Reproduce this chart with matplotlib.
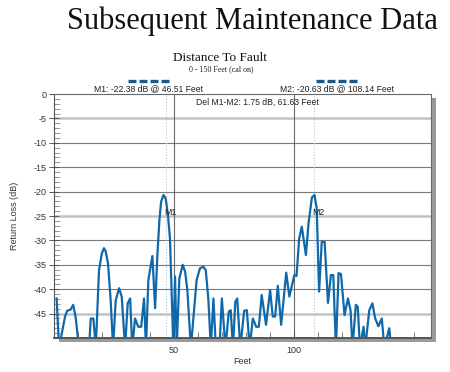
import matplotlib.pyplot as plt
import matplotlib.patches as mpatches
from matplotlib.lines import Line2D
import numpy as np

# Distanz (Feet) und Return Loss (dB) der Messkurve
feet = [1.1, 2.1, 4.6, 5.5, 6.9, 8.0, 9.0, 10.4, 12.5, 14.6, 15.3, 16.4, 17.4,
        18.75, 19.9, 20.8, 21.5, 22.5, 23.6, 24.6, 25.7, 27.1, 28.2, 29.6,
        30.7, 31.7, 32.6, 33.75, 35.1, 36.3, 37.5, 38.3,
        39.3, 40.97, 42.1, 43.05, 43.9, 44.6, 45.6, 46.5, 47.4, 48.3, 49.7,
        50.4, 51.1, 52.2, 53.6, 54.6, 55.5, 57.0,
        59.4, 60.8, 62.2, 63.2, 64.3, 65.3, 66.4, 67.4,
        68.9, 69.9, 71.4, 72.8, 73.6, 74.5, 75.5, 76.3, 77.6, 79.2, 80.3, 81.5,
        82.8, 84.2, 85.3, 86.5, 88.3, 90.0, 91.1, 92.1, 93.2, 94.6, 96.7, 98.0,
        100.1, 101.0, 102.1, 103.2, 104.9, 106.0, 107.4, 108.5, 109.4, 110.4,
        111.5, 112.7, 114.1, 115.3, 116.3, 117.4, 118.5, 119.5, 121.0, 122.4,
        123.5, 124.3, 125.7, 126.5, 127.4, 128.9, 129.6, 131.3, 132.6, 133.75,
        135.1, 136.5, 137.6, 139.6, 140.4, 141.0]
return_loss = [-41.9, -52, -45.6, -44.4, -44.2, -43.2, -45.7, -52, -55, -52, -46, -46, -52,
               -36.1, -32.7, -31.6, -32.2, -34.7, -42.3, -52, -42.3, -39.8, -41.5, -52,
               -42.9, -41.9, -52, -46, -47.7, -47.7, -41.9, -52,
               -38.1, -33.2, -43.9, -33, -25.8, -22.1, -20.7, -21.4, -24.5, -29.6, -52,
               -37.4, -52, -37.8, -35, -36.4, -40, -52,
               -38.1, -35.7, -35.4, -36.1, -42.2, -52, -41.9, -52,
               -52, -41.9, -52, -44.6, -44.3, -52, -42.6, -41.9, -52, -44.4, -44.3, -52,
               -46, -47.7, -47.7, -41.2, -47.3, -40.2, -45.6, -45.6, -39.3, -47.3, -36.6, -41.5,
               -37.1, -37.3, -29.6, -27.2, -33, -26.5, -21.2, -20.7, -23.4, -40.5,
               -30.3, -30.3, -42.8, -37.1, -37.1, -52, -36.7, -36.9, -45.3, -41.9,
               -44.3, -52, -43.2, -43.6, -52, -47.7, -52, -44.3, -42.9, -46,
               -47.6, -46, -52, -48, -52, -55]

# Marker
marker_names = ['M1', 'M2']
marker_feet = [46.51, 108.14]
marker_db = [-22.38, -20.63]

y_ticks = [0, -5, -10, -15, -20, -25, -30, -35, -40, -45]
x_ticks = [50, 100]

sans = 'Liberation Sans'
serif = 'Liberation Serif'
line_blue = '#0f68aa'

fig = plt.figure(figsize=(4.5, 3.72), dpi=100)
fig.patch.set_facecolor('white')
L, B, W, H = 54 / 450, 1 - 338 / 372, (431 - 54) / 450, (338 - 94) / 372

# Schatten rechts und unten
shadow = mpatches.Rectangle((L + 5 / 450, B - 4 / 372), W, H, transform=fig.transFigure,
                            facecolor='#9a9a9a', edgecolor='none', zorder=0)
fig.patches.append(shadow)

ax = fig.add_axes([L, B, W, H])
ax.set_zorder(2)
ax.set_facecolor('white')
ax.set_xlim(0, 157)
ax.set_ylim(-50, 0)

# Gitterlinien
for yv in y_ticks[1:]:
    if yv in (-5, -25, -45):
        ax.axhline(yv, color='#c2c2c2', lw=1.8, zorder=1)
    else:
        ax.axhline(yv, color='#7a7a7a', lw=0.8, zorder=1)
for xv in x_ticks:
    ax.axvline(xv, color='#6a6a6a', lw=0.8, zorder=1)

# Markerlinien
for xm in marker_feet:
    ax.axvline(xm, color='#a8c8e6', lw=0.8, linestyle=':', zorder=1)

ax.plot(feet, return_loss, color=line_blue, lw=1.6, zorder=3, solid_joinstyle='round')

for name, xm in zip(marker_names, marker_feet):
    ax.text(xm - 0.6, -24.3, name, fontsize=6.3, family=sans, color='#222222',
            ha='left', va='center', zorder=4)

ax.text(59.0, -1.8, 'Del M1-M2: 1.75 dB, 61.63 Feet', fontsize=6.2, family=sans,
        color='#222222', ha='left', va='center')

ax.set_yticks(y_ticks)
ax.set_yticklabels([str(v) for v in y_ticks], family=sans, fontsize=6.5, color='#333333')
ax.set_yticks(np.arange(-50, 1, 1), minor=True)
ax.set_xticks(x_ticks)
ax.set_xticklabels([str(v) for v in x_ticks], family=sans, fontsize=6.5, color='#333333')
ax.set_xticks(np.arange(10, 151, 10), minor=True)
ax.tick_params(axis='y', which='major', direction='inout', length=7, width=0.7, color='#555555', pad=2)
ax.tick_params(axis='y', which='minor', direction='in', length=4, width=0.6, color='#888888')
ax.tick_params(axis='x', which='major', direction='in', length=4, width=0.7, color='#555555', pad=6)
ax.tick_params(axis='x', which='minor', direction='in', length=4, width=0.7, color='#777777')

ax.set_xlabel('Feet', family=sans, fontsize=6.5, color='#333333', labelpad=1)
ax.set_ylabel('Return Loss (dB)', family=sans, fontsize=6.5, color='#333333', labelpad=10)

for side in ('top', 'right'):
    ax.spines[side].set_color('#666666')
    ax.spines[side].set_linewidth(0.8)
ax.spines['left'].set_color('#555555')
ax.spines['left'].set_linewidth(0.8)
ax.spines['bottom'].set_color('#555555')
ax.spines['bottom'].set_linewidth(1.4)

# Titel und Beschriftungen oben
fig.text(252 / 450, 1 - 21 / 372, 'Subsequent Maintenance Data', family=serif,
         fontsize=22, ha='center', va='center', color='#111111')
fig.text(220 / 450, 1 - 58 / 372, 'Distance To Fault', family=serif,
         fontsize=9.5, ha='center', va='center', color='#111111')
fig.text(221 / 450, 1 - 69 / 372, '0 - 150 Feet (cal on)', family=serif,
         fontsize=5.8, ha='center', va='center', color='#222222')

labels = ['M1: -22.38 dB @ 46.51 Feet', 'M2: -20.63 dB @ 108.14 Feet']
label_x = [149, 337]
dash_start = [128, 316]
for text, cx, x0 in zip(labels, label_x, dash_start):
    fig.text(cx / 450, 1 - 89 / 372, text, family=sans, fontsize=6.2,
             ha='center', va='center', color='#222222')
    for k in range(4):
        xa = x0 + k * 11
        fig.lines.append(Line2D([xa / 450, (xa + 8) / 450], [1 - 81 / 372, 1 - 81 / 372],
                                transform=fig.transFigure, color='#1d5a8c', lw=2.4,
                                solid_capstyle='butt'))

fig.savefig('out.png', dpi=100)
